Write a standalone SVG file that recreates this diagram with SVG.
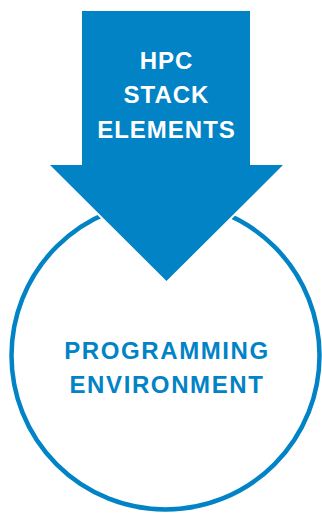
<svg xmlns="http://www.w3.org/2000/svg" width="322" height="513" viewBox="0 0 322 513">
<style>
.lbl{font-family:"Liberation Sans",Arial,sans-serif;font-weight:bold;font-size:24px;letter-spacing:1px;text-anchor:middle}
.wide{letter-spacing:1.6px}
</style>
<defs>
<polygon id="arrowShape" points="82,11 250,11 250,165 283,165 166.5,281 50,165 82,165"/>
</defs>
<rect width="322" height="513" fill="#fff"/>
<g id="programming-environment">
<circle cx="165.5" cy="355.5" r="154" fill="#fff" stroke="#0283c6" stroke-width="4.5"/>
<text class="lbl wide" x="167" y="359" fill="#0283c6">PROGRAMMING</text>
<text class="lbl wide" x="167" y="393" fill="#0283c6">ENVIRONMENT</text>
</g>
<g id="hpc-stack-elements">
<use href="#arrowShape" fill="#fff" stroke="#fff" stroke-width="4"/>
<use href="#arrowShape" fill="#0283c6"/>
<text class="lbl" x="166.5" y="69" fill="#fff">HPC</text>
<text class="lbl" x="166.5" y="103" fill="#fff">STACK</text>
<text class="lbl" x="166.5" y="138" fill="#fff">ELEMENTS</text>
</g>
<g id="connectors"/>
</svg>
